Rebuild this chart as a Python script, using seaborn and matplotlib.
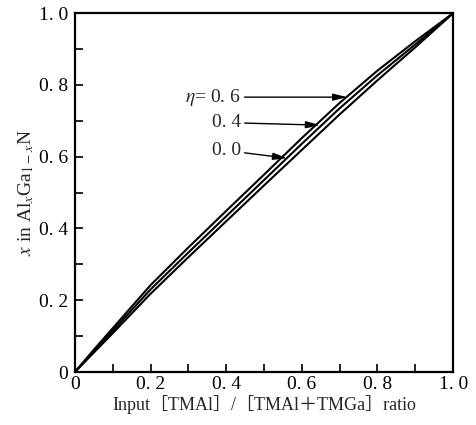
import numpy as np
import pandas as pd
import matplotlib
matplotlib.use("Agg")
import matplotlib.pyplot as plt
import seaborn as sns
from matplotlib.ticker import MultipleLocator, FixedLocator, FixedFormatter

# Data
ratio = [0.0, 0.05, 0.1, 0.2, 0.3, 0.4, 0.5, 0.6, 0.7, 0.8, 0.9, 1.0]
x_eta06 = [0.0, 0.062, 0.122, 0.242, 0.347, 0.449, 0.55, 0.652, 0.75, 0.84, 0.922, 1.0]
x_eta04 = [0.0, 0.058, 0.115, 0.23, 0.333, 0.434, 0.535, 0.636, 0.735, 0.827, 0.913, 1.0]
x_eta00 = [0.0, 0.054, 0.108, 0.218, 0.32, 0.42, 0.52, 0.619, 0.718, 0.813, 0.905, 1.0]
eta_labels = ["0.6", "0.4", "0.0"]

tick_vals = [0.0, 0.2, 0.4, 0.6, 0.8, 1.0]
tick_labels = ["0", "0. 2", "0. 4", "0. 6", "0. 8", "1. 0"]

df = pd.DataFrame({
    "ratio": ratio * 3,
    "x": x_eta06 + x_eta04 + x_eta00,
    "eta": [eta_labels[0]] * len(ratio) + [eta_labels[1]] * len(ratio) + [eta_labels[2]] * len(ratio),
})

sns.set_theme(style="ticks")
plt.rcParams["font.family"] = ["Liberation Serif", "Noto Sans CJK SC", "DejaVu Sans"]
plt.rcParams["mathtext.fontset"] = "stix"

fig = plt.figure(figsize=(4.77, 4.25), dpi=100)
ax = fig.add_axes([0.157, 0.1247, 0.793, 0.8443])

sns.lineplot(data=df, x="ratio", y="x", hue="eta",
             palette={e: "black" for e in eta_labels},
             linewidth=1.5, legend=False, ax=ax)

ax.set_xlim(0, 1)
ax.set_ylim(0, 1)

for ax_ in (ax.xaxis, ax.yaxis):
    ax_.set_major_locator(FixedLocator(tick_vals))
    ax_.set_major_formatter(FixedFormatter(tick_labels))
    ax_.set_minor_locator(MultipleLocator(0.1))

ax.tick_params(which="both", direction="in", length=6, width=1.2,
               top=False, right=False, labelsize=14, colors="black")
ax.tick_params(axis="x", pad=3)
ax.tick_params(axis="y", pad=5)
for s in ax.spines.values():
    s.set_linewidth(1.6)
    s.set_color("black")
    s.set_visible(True)

ax.set_xlabel("Input［TMAl］/［TMAl＋TMGa］ratio", fontsize=13, labelpad=1)
ax.set_ylabel(r"$x$ in Al$_x$Ga$_{1-x}$N", fontsize=14, labelpad=2)

arrow = dict(arrowstyle="-|>,head_length=0.6,head_width=0.15", color="black",
             lw=1.0, shrinkA=0, shrinkB=0)
ax.annotate(r"$\eta$= 0. 6", xy=(0.72, 0.766), xytext=(0.44, 0.766),
            fontsize=14, va="center", ha="right", arrowprops=arrow)
ax.annotate("0. 4", xy=(0.648, 0.688), xytext=(0.44, 0.695),
            fontsize=14, va="center", ha="right", arrowprops=arrow)
ax.annotate("0. 0", xy=(0.561, 0.596), xytext=(0.44, 0.617),
            fontsize=14, va="center", ha="right", arrowprops=arrow)

fig.savefig("out.png", dpi=100)
